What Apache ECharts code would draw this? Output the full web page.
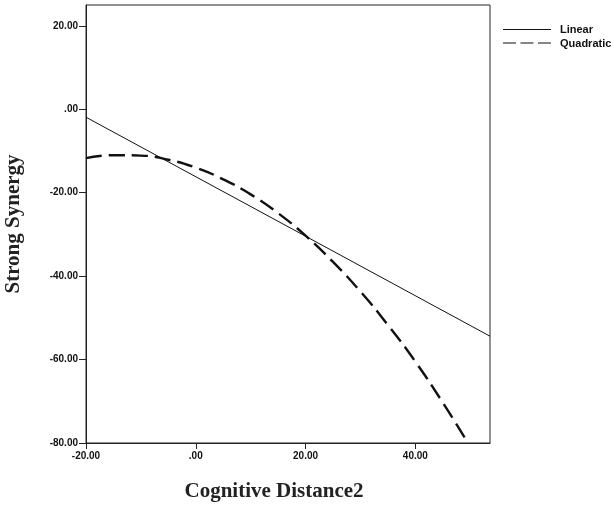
<!DOCTYPE html>
<html><head><meta charset="utf-8">
<script src="https://cdn.jsdelivr.net/npm/echarts@6/dist/echarts.min.js"></script>
<style>html,body{margin:0;padding:0;background:#fff}#c{width:613px;height:507px}</style>
</head><body><div id="c"></div>
<script>
const linearX = [-20, 53.6];
const linearY = [-1.9, -54.4];
const quadX = [-20, -15, -10, -5, 0, 5, 10, 15, 20, 25, 30, 35, 40, 45, 49.6];
const quadY = [-11.7, -11.0, -11.1, -12.1, -14.0, -16.8, -20.4, -24.9, -30.3, -36.6, -43.7, -51.7, -60.5, -70.3, -80.0];
const seriesNames = ['Linear', 'Quadratic'];
const xTitle = 'Cognitive Distance2';
const yTitle = 'Strong Synergy';

function fmt(v){ if (v === 0) return '.00'; return v.toFixed(2); }

const legendText = {fontFamily: 'Liberation Sans', fontWeight: 'bold', fontSize: 11, fill: '#111', textVerticalAlign: 'middle', textAlign: 'left'};

const chart = echarts.init(document.getElementById('c'));
chart.setOption({
  animation: false,
  grid: {left: 86, top: 5, right: 123, bottom: 64, show: true, borderColor: '#222', borderWidth: 1,
         containLabel: false, outerBoundsMode: 'none'},
  graphic: [
    {type: 'line', shape: {x1: 503, y1: 29.5, x2: 551, y2: 29.5}, style: {stroke: '#111', lineWidth: 1.2}},
    {type: 'text', x: 560, y: 30, style: Object.assign({text: seriesNames[0]}, legendText)},
    {type: 'line', shape: {x1: 503, y1: 43, x2: 551, y2: 43}, style: {stroke: '#111', lineWidth: 1.2, lineDash: [13, 4.5]}},
    {type: 'text', x: 560, y: 43.5, style: Object.assign({text: seriesNames[1]}, legendText)}
  ],
  xAxis: {
    type: 'value', min: -20, max: 53.6, interval: 20,
    name: xTitle, nameLocation: 'middle', nameGap: 38,
    nameTextStyle: {fontFamily: 'Liberation Serif', fontWeight: 'bold', fontSize: 21, color: '#222', padding: [0, 28, 0, 0]},
    axisLine: {show: true, onZero: false, lineStyle: {color: '#222', width: 1}},
    axisTick: {show: true, length: 6, lineStyle: {color: '#222'}},
    axisLabel: {formatter: fmt, fontFamily: 'Liberation Sans', fontWeight: 'bold', fontSize: 10, color: '#111', margin: 8,
      showMaxLabel: false},
    splitLine: {show: false}
  },
  yAxis: {
    type: 'value', min: -80, max: 25, interval: 20,
    name: yTitle, nameLocation: 'middle', nameGap: 62,
    nameTextStyle: {fontFamily: 'Liberation Serif', fontWeight: 'bold', fontSize: 21, color: '#222'},
    axisLine: {show: true, onZero: false, lineStyle: {color: '#222', width: 1}},
    axisTick: {show: true, length: 7, lineStyle: {color: '#222'}},
    axisLabel: {formatter: fmt, fontFamily: 'Liberation Sans', fontWeight: 'bold', fontSize: 10, color: '#111', margin: 8,
      showMaxLabel: false},
    splitLine: {show: false}
  },
  series: [
    {name: seriesNames[0], type: 'line', symbol: 'none', smooth: false,
     lineStyle: {color: '#111', width: 1}, itemStyle: {color: '#111'},
     data: linearX.map((x, i) => [x, linearY[i]])},
    {name: seriesNames[1], type: 'line', symbol: 'none', smooth: true,
     lineStyle: {color: '#111', width: 2.4, type: [16, 7]}, itemStyle: {color: '#111'},
     data: quadX.map((x, i) => [x, quadY[i]])}
  ]
});
</script></body></html>
